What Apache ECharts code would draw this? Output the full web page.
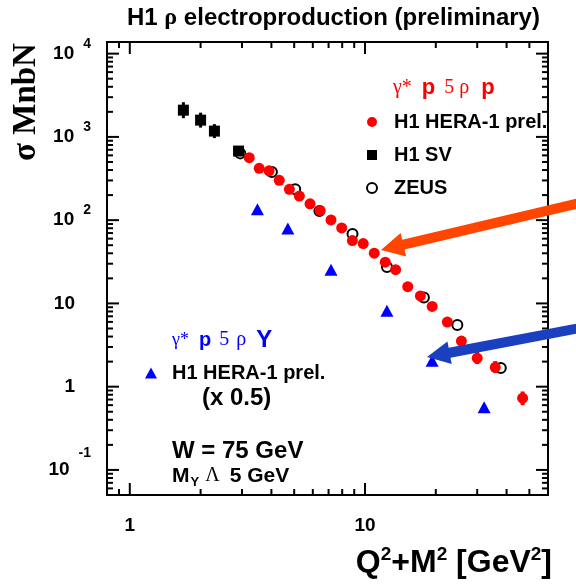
<!DOCTYPE html>
<html>
<head>
<meta charset="utf-8">
<script src="https://cdn.jsdelivr.net/npm/echarts@6/dist/echarts.min.js"></script>
<style>
  html, body { margin: 0; padding: 0; background: #fff; }
  #chart { width: 576px; height: 586px; }
</style>
</head>
<body>
<div id="chart"></div>
<script>
// ---- data: rho electroproduction cross sections vs Q^2+M^2 ----
// H1 HERA-1 preliminary, elastic (gamma* p -> rho p)
const h1HeraX = [3.22, 3.55, 3.91, 4.32, 4.77, 5.26, 5.84, 6.44, 7.17, 7.96, 8.84, 9.83,
                 10.95, 12.2, 13.5, 15.2, 17.2, 19.3, 22.4, 25.7, 30.0, 35.8, 46.8];
const h1HeraY = [563, 419, 391, 301, 235, 195, 157, 131, 100.5, 80.6, 56.9, 52.4,
                 40.1, 31.3, 25.4, 15.9, 12.3, 9.2, 5.97, 3.53, 2.20, 1.71, 0.728];
const h1HeraLo = [null, null, null, null, null, null, null, null, null, null, null, null,
                  null, null, null, null, null, null, null, 3.07, 1.87, 1.46, 0.60];
const h1HeraHi = [null, null, null, null, null, null, null, null, null, null, null, null,
                  null, null, null, null, null, null, null, 4.06, 2.61, 2.03, 0.876];
// H1 shifted vertex
const h1SvX = [1.69, 2.0, 2.29, 2.90];
const h1SvY = [2095, 1590, 1174, 676];
const h1SvLo = [1680, 1293, 968, null];
const h1SvHi = [2610, 1955, 1424, null];
// ZEUS
const zeusX = [2.95, 4.02, 5.05, 6.40, 8.85, 12.4, 17.8, 24.7, 37.8];
const zeusY = [634, 378, 235, 129, 68.3, 27.4, 11.8, 5.49, 1.68];
// H1 HERA-1 preliminary, proton dissociation (gamma* p -> rho Y), scaled by 0.5
const pdissX = [3.49, 4.70, 7.17, 12.4, 19.3, 32.1];
const pdissY = [135, 79.3, 25.3, 8.15, 2.05, 0.566];

// axis ranges and tick positions
const X_MIN = 0.8, X_MAX = 60;
const Y_MIN = 0.05, Y_MAX = 13800;
const xMajorTicks = [1, 10];
const xMinorTicks = [0.9, 2, 3, 4, 5, 6, 7, 8, 9, 20, 30, 40, 50];
const yMajorTicks = [0.1, 1, 10, 100, 1000, 10000];
const yMinorTicks = [0.06, 0.07, 0.08, 0.09, 0.2, 0.3, 0.4, 0.5, 0.6, 0.7, 0.8, 0.9,
                     2, 3, 4, 5, 6, 7, 8, 9, 20, 30, 40, 50, 60, 70, 80, 90,
                     200, 300, 400, 500, 600, 700, 800, 900,
                     2000, 3000, 4000, 5000, 6000, 7000, 8000, 9000];

const SANS = '"Liberation Sans", Arial, Helvetica, sans-serif';
const SERIF = '"Liberation Serif", "Times New Roman", serif';
const RED = '#ff0000';
const BLUE = '#0000ff';

const zip = (xs, ys) => xs.map((x, i) => [x, ys[i]]);
const errData = (xs, lo, hi) => xs.map((x, i) => [x, lo[i], hi[i]]).filter(d => d[1] != null);

// frame ticks on all four sides (ticks point into the plot)
const tickData = [];
xMajorTicks.forEach(v => tickData.push([v, Y_MIN, 0, 1]));
xMinorTicks.forEach(v => tickData.push([v, Y_MIN, 0, 0]));
yMajorTicks.forEach(v => tickData.push([X_MIN, v, 1, 1]));
yMinorTicks.forEach(v => tickData.push([X_MIN, v, 1, 0]));

function isPow10(v) {
  const e = Math.log10(v);
  return Math.abs(e - Math.round(e)) < 1e-6;
}

function arrow(tip, tail, headLen, headHalf, shaftHalf, color) {
  const dx = tail[0] - tip[0], dy = tail[1] - tip[1];
  const L = Math.hypot(dx, dy);
  const ux = dx / L, uy = dy / L;       // from tip toward tail
  const nx = -uy, ny = ux;              // normal
  const bx = tip[0] + ux * headLen, by = tip[1] + uy * headLen;
  const pts = [
    tip,
    [bx + nx * headHalf, by + ny * headHalf],
    [bx + nx * shaftHalf, by + ny * shaftHalf],
    [tail[0] + nx * shaftHalf, tail[1] + ny * shaftHalf],
    [tail[0] - nx * shaftHalf, tail[1] - ny * shaftHalf],
    [bx - nx * shaftHalf, by - ny * shaftHalf],
    [bx - nx * headHalf, by - ny * headHalf]
  ];
  return { type: 'polygon', z: 100, shape: { points: pts }, style: { fill: color } };
}

const chart = echarts.init(document.getElementById('chart'), null, { renderer: 'canvas' });

const labelBold = { fontFamily: SANS, fontWeight: 'bold', color: '#000' };

chart.setOption({
  animation: false,
  backgroundColor: '#fff',
  title: {
    text: '{a|H1 }{r|ρ}{a| electroproduction (preliminary)}',
    left: 127, top: 6, padding: 0,
    textStyle: {
      rich: {
        a: { fontSize: 24, fontWeight: 'bold', fontFamily: SANS, color: '#000' },
        r: { fontSize: 24, fontFamily: SERIF, color: '#000' }
      }
    }
  },
  grid: {
    left: 107, top: 42, width: 441, height: 453,
    show: true, borderColor: '#000', borderWidth: 2, backgroundColor: 'transparent'
  },
  xAxis: {
    type: 'log', logBase: 10, min: X_MIN, max: X_MAX,
    axisLine: { show: false }, axisTick: { show: false }, splitLine: { show: false },
    axisLabel: {
      margin: 21, fontSize: 19, ...labelBold,
      formatter: v => isPow10(v) ? String(Math.round(v)) : ''
    }
  },
  yAxis: {
    type: 'log', logBase: 10, min: Y_MIN, max: Y_MAX,
    axisLine: { show: false }, axisTick: { show: false }, splitLine: { show: false },
    axisLabel: {
      margin: 16, fontSize: 19, ...labelBold, align: 'right',
      formatter: v => {
        if (!isPow10(v)) return '';
        const k = Math.round(Math.log10(v));
        if (k === 0) return '{b|1}{p| }';
        if (k === 1) return '{b|10}{p| }';
        if (k < 0) return '{b|10}{n|' + k + '}';
        return '{b|10}{e|' + k + '}';
      },
      rich: {
        b: { fontSize: 19, ...labelBold },
        p: { fontSize: 13, width: 16 },
        e: { fontSize: 14, ...labelBold, padding: [0, 0, 20, 9] },
        n: { fontSize: 14, ...labelBold, padding: [0, 0, 34, 9] }
      }
    }
  },
  legend: [
    {
      orient: 'vertical', left: 366, top: 110, padding: 0,
      itemWidth: 10, itemHeight: 10, itemGap: 9,
      data: ['H1 HERA-1 prel.', 'H1 SV', 'ZEUS'],
      textStyle: { fontSize: 20, ...labelBold, lineHeight: 24, padding: [0, 0, 0, 12] }
    },
    {
      orient: 'vertical', left: 145, top: 361, padding: 0,
      itemWidth: 12, itemHeight: 11,
      data: ['H1 HERA-1 prel. (p-diss.)'],
      formatter: () => 'H1 HERA-1 prel.',
      textStyle: { fontSize: 20, ...labelBold, lineHeight: 24, padding: [0, 0, 0, 10] }
    }
  ],
  series: [
    {
      // frame ticks drawn through the axis scales
      type: 'custom', silent: true, z: 5, clip: false,
      encode: { x: 0, y: 1 },
      data: tickData,
      renderItem: (params, api) => {
        const isY = api.value(2) === 1;
        const len = api.value(3) === 1 ? 12 : 6;
        const st = { stroke: '#000', lineWidth: 2 };
        if (!isY) {
          const v = api.value(0);
          const b = api.coord([v, Y_MIN]), t = api.coord([v, Y_MAX]);
          return { type: 'group', children: [
            { type: 'line', shape: { x1: b[0], y1: b[1], x2: b[0], y2: b[1] - len }, style: st },
            { type: 'line', shape: { x1: t[0], y1: t[1], x2: t[0], y2: t[1] + len }, style: st }
          ] };
        }
        const v = api.value(1);
        const l = api.coord([X_MIN, v]), r = api.coord([X_MAX, v]);
        return { type: 'group', children: [
          { type: 'line', shape: { x1: l[0], y1: l[1], x2: l[0] + len, y2: l[1] }, style: st },
          { type: 'line', shape: { x1: r[0], y1: r[1], x2: r[0] - len, y2: r[1] }, style: st }
        ] };
      }
    },
    {
      name: 'ZEUS', type: 'scatter', z: 10,
      symbol: 'circle', symbolSize: 10,
      itemStyle: { color: 'rgba(255,255,255,0)', borderColor: '#000', borderWidth: 2, opacity: 1 },
      data: zip(zeusX, zeusY)
    },
    {
      type: 'custom', z: 11, silent: true,
      data: errData(h1SvX, h1SvLo, h1SvHi),
      renderItem: (params, api) => {
        const a = api.coord([api.value(0), api.value(1)]), b = api.coord([api.value(0), api.value(2)]);
        return { type: 'line', shape: { x1: a[0], y1: a[1], x2: b[0], y2: b[1] }, style: { stroke: '#000', lineWidth: 3 } };
      }
    },
    {
      name: 'H1 SV', type: 'scatter', z: 12,
      symbol: 'rect', symbolSize: 11,
      itemStyle: { color: '#000', opacity: 1 },
      data: zip(h1SvX, h1SvY)
    },
    {
      type: 'custom', z: 13, silent: true,
      data: errData(h1HeraX, h1HeraLo, h1HeraHi),
      renderItem: (params, api) => {
        const a = api.coord([api.value(0), api.value(1)]), b = api.coord([api.value(0), api.value(2)]);
        return { type: 'line', shape: { x1: a[0], y1: a[1], x2: b[0], y2: b[1] }, style: { stroke: RED, lineWidth: 4 } };
      }
    },
    {
      name: 'H1 HERA-1 prel.', type: 'scatter', z: 14,
      symbol: 'circle', symbolSize: 11,
      itemStyle: { color: RED, opacity: 1 },
      data: zip(h1HeraX, h1HeraY)
    },
    {
      name: 'H1 HERA-1 prel. (p-diss.)', type: 'scatter', z: 14,
      symbol: 'triangle', symbolSize: [13, 12],
      itemStyle: { color: BLUE, opacity: 1 },
      data: zip(pdissX, pdissY)
    }
  ],
  graphic: [
    {
      type: 'text', z: 50,
      x: 26, y: 102, rotation: Math.PI / 2,
      style: { text: 'σ MnbN', x: 0, y: 0, align: 'center', verticalAlign: 'middle',
               font: 'bold 33px ' + SERIF, fill: '#000' }
    },
    {
      type: 'text', z: 50,
      style: {
        text: '{a|Q}{s|2}{a|+M}{s|2}{a| [GeV}{s|2}{a|]}',
        x: 552, y: 563, align: 'right', verticalAlign: 'middle',
        rich: {
          a: { fontSize: 32, fontWeight: 'bold', fontFamily: SANS, fill: '#000' },
          s: { fontSize: 19, fontWeight: 'bold', fontFamily: SANS, fill: '#000', padding: [0, 0, 16, 0] }
        }
      }
    },
    {
      type: 'text', z: 50,
      style: {
        text: '{g|γ*}{p|p}{g5|5}{r|ρ}{p2|p}',
        x: 393, y: 88, verticalAlign: 'middle',
        rich: {
          g: { fontSize: 20, fontFamily: SERIF, fill: RED },
          p: { fontSize: 22, fontWeight: 'bold', fontFamily: SANS, fill: RED, padding: [0, 0, 0, 10] },
          g5: { fontSize: 20, fontFamily: SERIF, fill: RED, padding: [0, 0, 0, 9] },
          r: { fontSize: 20, fontFamily: SERIF, fill: RED, padding: [0, 0, 0, 5] },
          p2: { fontSize: 22, fontWeight: 'bold', fontFamily: SANS, fill: RED, padding: [0, 0, 0, 12] }
        }
      }
    },
    {
      type: 'text', z: 50,
      style: {
        text: '{g|γ*}{p|p}{g5|5}{r|ρ}{y|Y}',
        x: 172, y: 340, verticalAlign: 'middle',
        rich: {
          g: { fontSize: 18, fontFamily: SERIF, fill: BLUE },
          p: { fontSize: 20, fontWeight: 'bold', fontFamily: SANS, fill: BLUE, padding: [0, 0, 0, 10] },
          g5: { fontSize: 20, fontFamily: SERIF, fill: BLUE, padding: [0, 0, 0, 8] },
          r: { fontSize: 20, fontFamily: SERIF, fill: BLUE, padding: [0, 0, 0, 7] },
          y: { fontSize: 24, fontWeight: 'bold', fontFamily: SANS, fill: BLUE, padding: [0, 0, 0, 10] }
        }
      }
    },
    {
      type: 'text', z: 50,
      style: { text: '(x 0.5)', x: 202, y: 398, verticalAlign: 'middle',
               font: 'bold 24px ' + SANS, fill: '#000' }
    },
    {
      type: 'text', z: 50,
      style: { text: 'W = 75 GeV', x: 172, y: 451, verticalAlign: 'middle',
               font: 'bold 24px ' + SANS, fill: '#000' }
    },
    {
      type: 'text', z: 50,
      style: {
        text: '{m|M}{sub|Y}{l|Λ}{m|5 GeV}',
        x: 172, y: 476, verticalAlign: 'middle',
        rich: {
          m: { fontSize: 21, fontWeight: 'bold', fontFamily: SANS, fill: '#000' },
          sub: { fontSize: 13, fontWeight: 'bold', fontFamily: SANS, fill: '#000', padding: [13, 6, 0, 1] },
          l: { fontSize: 20, fontFamily: SERIF, fill: '#000', padding: [0, 10, 0, 0] }
        }
      }
    },
    arrow([381, 250], [580, 203], 23, 12, 5, '#ff4500'),
    arrow([427, 357], [580, 328], 23, 11.5, 5, '#1a40c0')
  ]
});
</script>
</body>
</html>
